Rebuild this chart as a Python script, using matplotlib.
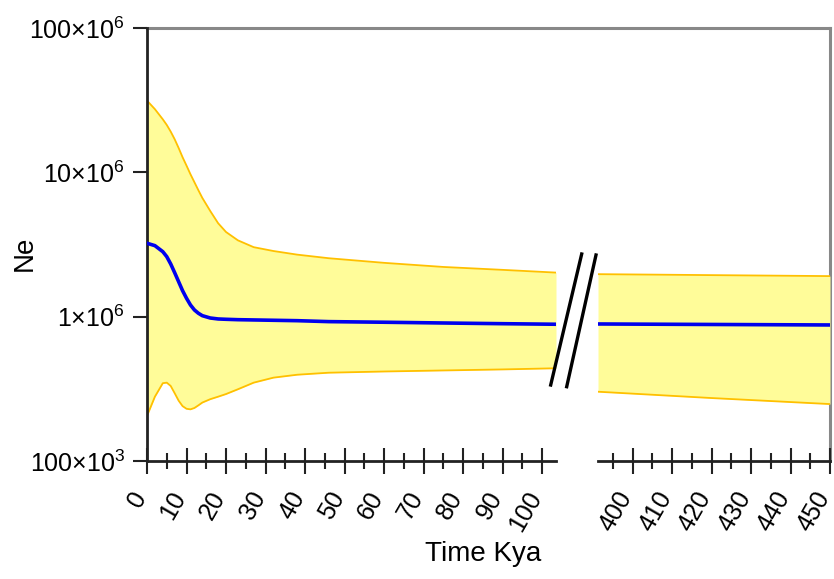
import matplotlib
matplotlib.use("Agg")
import matplotlib.pyplot as plt
from matplotlib.lines import Line2D

# ---------------------------------------------------------------------------
# Data
# ---------------------------------------------------------------------------
AGE_LEFT = [0, 2, 4, 5, 6, 7, 8, 9, 10, 11, 12, 13, 14, 16, 18, 20, 23, 27,
            32, 38, 46, 60, 75, 90, 103.5]
NE_MEAN_LEFT = [3.226e6, 3.105e6, 2.82e6, 2.605e6, 2.318e6, 2.018e6, 1.748e6,
                1.514e6, 1.341e6, 1.205e6, 1.113e6, 1.056e6, 1.016e6, 0.979e6,
                0.964e6, 0.959e6, 0.953e6, 0.949e6, 0.944e6, 0.938e6, 0.924e6,
                0.915e6, 0.904e6, 0.894e6, 0.886e6]
NE_UPPER_LEFT = [31.4e6, 27.4e6, 23.3e6, 21.3e6, 19.15e6, 16.96e6, 14.76e6,
                 12.73e6, 11.13e6, 9.70e6, 8.54e6, 7.52e6, 6.65e6, 5.40e6,
                 4.44e6, 3.86e6, 3.38e6, 3.03e6, 2.85e6, 2.69e6, 2.54e6,
                 2.36e6, 2.21e6, 2.11e6, 2.02e6]
NE_LOWER_LEFT = [0.205e6, 0.279e6, 0.346e6, 0.349e6, 0.331e6, 0.295e6,
                 0.262e6, 0.240e6, 0.230e6, 0.228e6, 0.233e6, 0.243e6,
                 0.254e6, 0.268e6, 0.279e6, 0.291e6, 0.314e6, 0.349e6,
                 0.378e6, 0.396e6, 0.409e6, 0.417e6, 0.424e6, 0.431e6,
                 0.439e6]

AGE_RIGHT = [391.2, 420, 450]
NE_MEAN_RIGHT = [0.890e6, 0.883e6, 0.876e6]
NE_UPPER_RIGHT = [1.97e6, 1.94e6, 1.91e6]
NE_LOWER_RIGHT = [0.302e6, 0.273e6, 0.248e6]

XLIM_LEFT = (0, 103.5)
XLIM_RIGHT = (391.2, 450)
XTICKS_LEFT = list(range(0, 101, 10))
XTICKS_RIGHT = list(range(400, 451, 10))
YTICKS = [1e5, 1e6, 1e7, 1e8]
YTICK_LABELS = [r"$\mathregular{100{\times}10^{3}}$",
                r"$\mathregular{1{\times}10^{6}}$",
                r"$\mathregular{10{\times}10^{6}}$",
                r"$\mathregular{100{\times}10^{6}}$"]

FILL_COLOR = "#FFFC99"
EDGE_COLOR = "#FFC000"
MEAN_COLOR = "#0000EE"

plt.rcParams.update({
    "font.family": ["Liberation Sans", "DejaVu Sans"],
    "mathtext.fontset": "custom",
    "mathtext.rm": "Liberation Sans",
    "mathtext.it": "Liberation Sans:italic",
    "mathtext.bf": "Liberation Sans:bold",
})

W, H = 834, 579
fig = plt.figure(figsize=(W / 100, H / 100), dpi=100)


def fig_rect(x0, x1, y_top, y_bot):
    return [x0 / W, 1 - y_bot / H, (x1 - x0) / W, (y_bot - y_top) / H]


# frame (grey top/right border spanning both panels)
frame = fig.add_axes(fig_rect(147, 830, 28, 461))
frame.set_xticks([])
frame.set_yticks([])
frame.patch.set_visible(False)
for side in ("left", "bottom"):
    frame.spines[side].set_visible(False)
for side in ("top", "right"):
    frame.spines[side].set_color("#888888")
    frame.spines[side].set_linewidth(2.2)

ax_l = fig.add_axes(fig_rect(147, 556, 28, 461))
ax_r = fig.add_axes(fig_rect(598, 830, 28, 461))

panels = [
    (ax_l, AGE_LEFT, NE_MEAN_LEFT, NE_UPPER_LEFT, NE_LOWER_LEFT, XLIM_LEFT,
     XTICKS_LEFT),
    (ax_r, AGE_RIGHT, NE_MEAN_RIGHT, NE_UPPER_RIGHT, NE_LOWER_RIGHT,
     XLIM_RIGHT, XTICKS_RIGHT),
]

for ax, age, mean, upper, lower, xlim, xticks in panels:
    ax.patch.set_visible(False)
    ax.fill_between(age, lower, upper, color=FILL_COLOR, lw=0, zorder=1)
    ax.plot(age, upper, color=EDGE_COLOR, lw=1.3, zorder=2)
    ax.plot(age, lower, color=EDGE_COLOR, lw=1.3, zorder=2)
    ax.plot(age, mean, color=MEAN_COLOR, lw=2.6, zorder=3)

    ax.set_yscale("log")
    ax.set_ylim(1e5, 1e8)
    ax.set_xlim(*xlim)
    ax.set_xticks(xticks)
    minor = [t + 5 for t in xticks if xlim[0] <= t + 5 <= xlim[1]]
    minor += [t - 5 for t in xticks[:1] if t - 5 >= xlim[0]]
    ax.set_xticks(minor, minor=True)
    ax.set_xticklabels([str(t) for t in xticks], rotation=60, ha="right",
                       va="baseline", rotation_mode="anchor", fontsize=18)
    ax.tick_params(axis="x", which="major", direction="inout", length=19,
                   width=1.5, color="#222222", pad=16)
    ax.tick_params(axis="x", which="minor", direction="inout", length=11,
                   width=1.5, color="#222222")

    for side in ("top", "right"):
        ax.spines[side].set_visible(False)
    ax.spines["bottom"].set_linewidth(2.0)
    ax.spines["bottom"].set_color("#222222")

ax_l.set_yticks(YTICKS)
ax_l.set_yticklabels(YTICK_LABELS, fontsize=18)
ax_l.yaxis.set_minor_locator(matplotlib.ticker.NullLocator())
ax_l.tick_params(axis="y", which="major", direction="out", length=10,
                 width=1.5, color="#222222", pad=6)
ax_l.spines["left"].set_linewidth(2.0)
ax_l.spines["left"].set_color("#222222")

ax_r.yaxis.set_minor_locator(matplotlib.ticker.NullLocator())
ax_r.set_yticks([])
ax_r.spines["left"].set_visible(False)

# axis-break marks
for (x0, y0), (x1, y1) in [((550.7, 385), (581.7, 254)),
                           ((566.7, 386.7), (596, 255))]:
    fig.add_artist(Line2D([x0 / W, x1 / W], [1 - y0 / H, 1 - y1 / H],
                          color="black", lw=2.4, transform=fig.transFigure))

fig.text(483 / W, 1 - 554 / H, "Time Kya", ha="center", va="center",
         fontsize=20)
fig.text(25 / W, 1 - 253 / H, "Ne", ha="center", va="center",
         fontsize=20, rotation=90)

fig.savefig("out.png", dpi=100)
